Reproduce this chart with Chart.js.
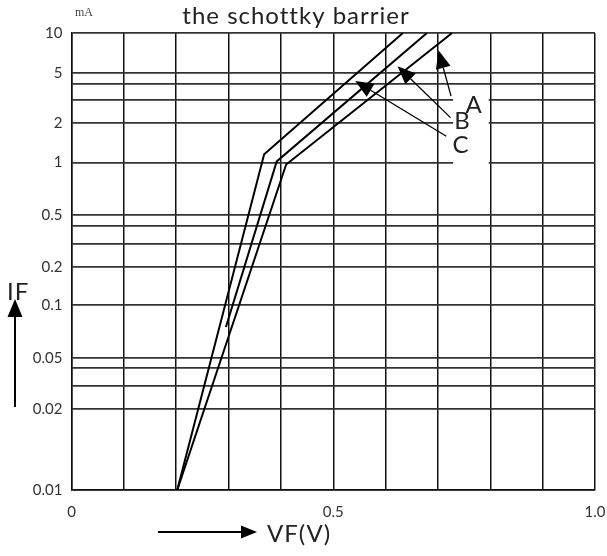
<!DOCTYPE html>
<html>
<head>
<meta charset="utf-8">
<script src="https://cdn.jsdelivr.net/npm/chart.js@4.4.1/dist/chart.umd.min.js"></script>
<style>
  body { margin: 0; background: #fff; }
  #wrap { width: 607px; height: 556px; }
</style>
</head>
<body>
<div id="wrap"><canvas id="grafico" width="607" height="556"></canvas></div>
<script>
const gridVoltages = [0, 0.1, 0.2, 0.3, 0.4, 0.5, 0.6, 0.7, 0.8, 0.9, 1.0];
const voltageLabels = ['0', '', '', '', '', '0.5', '', '', '', '', '1.0'];
const gridCurrents = [0.01, 0.02, 0.03, 0.04, 0.05, 0.1, 0.2, 0.3, 0.4, 0.5, 1, 2, 3, 4, 5, 10];
const labeledCurrents = [0.01, 0.02, 0.05, 0.1, 0.2, 0.5, 1, 2, 5, 10];

// the printed log axis is not evenly spaced, these are its stops (share of axis height)
const axisCurrents = [0.01, 0.02, 0.03, 0.04, 0.05, 0.1, 0.2, 0.3, 0.4, 0.5, 1, 2, 3, 4, 5, 10];
const axisShares = [0, 0.1771, 0.2281, 0.2661, 0.2893, 0.4045, 0.4883, 0.5395, 0.5773, 0.6014, 0.7166, 0.8032, 0.8528, 0.8893, 0.9125, 1];

const curveA_V = [0.202, 0.410, 0.727];
const curveA_I = [0.01, 0.974, 10];
const curveB_V = [0.295, 0.392, 0.679];
const curveB_I = [0.075, 1.02, 10];
const curveC_V = [0.202, 0.368, 0.633];
const curveC_I = [0.01, 1.156, 10];

const calloutNames = ['A', 'B', 'C'];
const calloutTail_V = [0.725, 0.724, 0.716];
const calloutTail_I = [3.22, 2.20, 1.585];
const calloutTip_V = [0.701, 0.623, 0.542];
const calloutTip_I = [7.41, 5.62, 4.23];
const calloutText_V = [0.768, 0.746, 0.743];
const calloutText_I = [2.74, 2.07, 1.35];

// blank patch behind the callout letters
const blank_V = [0.729, 0.797];
const blank_I = [0.82, 3.4];

const fonte = 'Lato, "DejaVu Sans", sans-serif';

function warp(v) {
  const lv = Math.log10(v);
  for (let i = 0; i < axisCurrents.length - 1; i++) {
    const a = Math.log10(axisCurrents[i]);
    const b = Math.log10(axisCurrents[i + 1]);
    if (lv <= b || i === axisCurrents.length - 2) {
      const t = (lv - a) / (b - a);
      return axisShares[i] + t * (axisShares[i + 1] - axisShares[i]);
    }
  }
}

function pontos(vs, is) {
  return vs.map((v, i) => ({ x: v, y: warp(is[i]) }));
}

function curva(vs, is) {
  return {
    data: pontos(vs, is),
    showLine: true,
    borderColor: '#000',
    borderWidth: 2,
    pointRadius: 0,
    borderJoinStyle: 'miter',
    tension: 0
  };
}

function seta(ctx, x1, y1, x2, y2, comp, meia, largura) {
  const ang = Math.atan2(y2 - y1, x2 - x1);
  const bx = x2 - Math.cos(ang) * comp;
  const by = y2 - Math.sin(ang) * comp;
  ctx.save();
  ctx.strokeStyle = '#000';
  ctx.fillStyle = '#000';
  ctx.lineWidth = largura;
  ctx.beginPath();
  ctx.moveTo(x1, y1);
  ctx.lineTo(bx, by);
  ctx.stroke();
  ctx.beginPath();
  ctx.moveTo(x2, y2);
  ctx.lineTo(bx + Math.sin(ang) * meia, by - Math.cos(ang) * meia);
  ctx.lineTo(bx - Math.sin(ang) * meia, by + Math.cos(ang) * meia);
  ctx.closePath();
  ctx.fill();
  ctx.restore();
}

const enfeites = {
  id: 'enfeites',
  beforeDatasetsDraw(chart) {
    const { ctx, scales: { x, y } } = chart;
    const x1 = x.getPixelForValue(blank_V[0]);
    const x2 = x.getPixelForValue(blank_V[1]);
    const y1 = y.getPixelForValue(warp(blank_I[1]));
    const y2 = y.getPixelForValue(warp(blank_I[0]));
    ctx.save();
    ctx.fillStyle = '#fff';
    ctx.fillRect(x1, y1, x2 - x1, y2 - y1);
    ctx.restore();
  },
  afterDatasetsDraw(chart) {
    const { ctx, scales: { x, y } } = chart;
    calloutNames.forEach((nome, i) => {
      seta(ctx,
        x.getPixelForValue(calloutTail_V[i]), y.getPixelForValue(warp(calloutTail_I[i])),
        x.getPixelForValue(calloutTip_V[i]), y.getPixelForValue(warp(calloutTip_I[i])),
        18, 7.5, 1.3);
      ctx.save();
      ctx.fillStyle = '#222';
      ctx.font = '24px ' + fonte;
      ctx.textAlign = 'center';
      ctx.textBaseline = 'middle';
      ctx.fillText(nome, x.getPixelForValue(calloutText_V[i]), y.getPixelForValue(warp(calloutText_I[i])));
      ctx.restore();
    });
  },
  afterDraw(chart) {
    const { ctx } = chart;
    ctx.save();
    ctx.fillStyle = '#222';
    ctx.textBaseline = 'alphabetic';
    ctx.letterSpacing = '1px';
    ctx.font = '24px ' + fonte;
    ctx.textAlign = 'center';
    ctx.fillText('the schottky barrier', 296, 24);
    ctx.textAlign = 'left';
    ctx.fillText('IF', 7, 300);
    ctx.fillText('VF(V)', 267, 542);
    ctx.letterSpacing = '0px';
    ctx.font = '12px "Liberation Serif", serif';
    ctx.fillStyle = '#444';
    ctx.fillText('mA', 75, 16);
    ctx.restore();
    seta(ctx, 15, 407, 15, 299, 18, 7.5, 2);
    seta(ctx, 158, 532, 257, 532, 16, 6.5, 2);
  }
};

const contexto = document.getElementById('grafico').getContext('2d');

const grafico = new Chart(contexto, {
  type: 'scatter',
  data: {
    datasets: [
      curva(curveA_V, curveA_I),
      curva(curveB_V, curveB_I),
      curva(curveC_V, curveC_I)
    ]
  },
  options: {
    responsive: false,
    animation: false,
    layout: { padding: { top: 33, right: 12, left: 0, bottom: 0 } },
    plugins: {
      legend: { display: false },
      tooltip: { enabled: false }
    },
    scales: {
      x: {
        type: 'linear',
        min: 0,
        max: 1,
        afterBuildTicks: (s) => { s.ticks = gridVoltages.map(v => ({ value: v })); },
        afterFit: (s) => { s.height = 66; s.paddingLeft = 0; s.paddingRight = 0; },
        grid: { color: '#111', lineWidth: 1.5, drawTicks: false },
        border: { color: '#111', width: 1.5 },
        ticks: {
          autoSkip: false,
          maxRotation: 0,
          padding: 13,
          color: '#333',
          font: { family: fonte, size: 15 },
          callback: (v, i) => voltageLabels[i]
        }
      },
      y: {
        type: 'linear',
        min: 0,
        max: 1,
        afterBuildTicks: (s) => { s.ticks = gridCurrents.map(c => ({ value: warp(c) })); },
        afterFit: (s) => { s.width = 71.5; s.paddingTop = 0; s.paddingBottom = 0; },
        grid: { color: '#333', lineWidth: 1.8, drawTicks: false },
        border: { color: '#111', width: 1.5 },
        ticks: {
          autoSkip: false,
          padding: 9,
          color: '#333',
          font: { family: fonte, size: 15 },
          callback: (v, i) => labeledCurrents.includes(gridCurrents[i]) ? String(gridCurrents[i]) : ''
        }
      }
    }
  },
  plugins: [enfeites]
});
</script>
</body>
</html>
